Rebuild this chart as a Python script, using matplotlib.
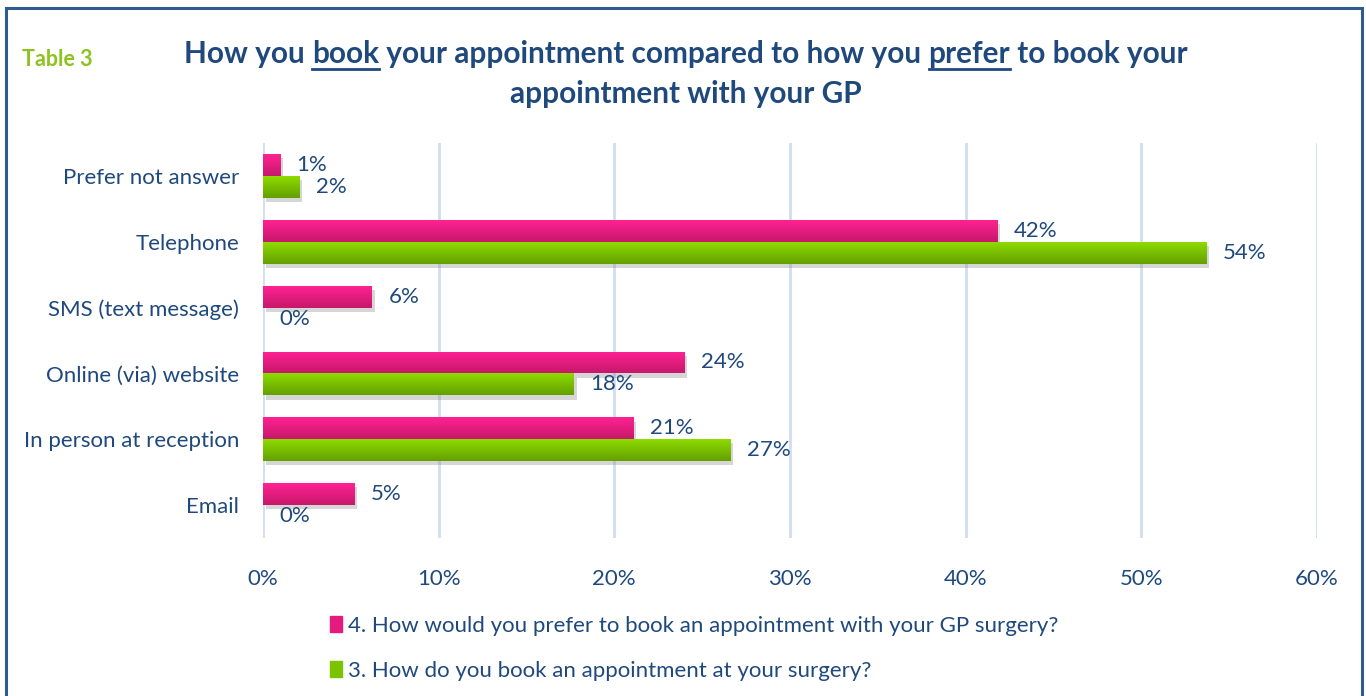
"""
Table 3 - how patients book their GP appointment vs. how they prefer to.
Horizontal grouped bar chart, saved as out.png.
"""

import numpy as np
import matplotlib
matplotlib.use("Agg")
import matplotlib.pyplot as plt
from matplotlib.colors import LinearSegmentedColormap
from matplotlib.patches import Rectangle
import matplotlib.patheffects as pe

plt.rcParams['font.family'] = ['Lato', 'DejaVu Sans']

# ----------------------------------------------------------------
# Data, top row first
# ----------------------------------------------------------------
categories = ["Prefer not answer", "Telephone", "SMS (text message)",
              "Online (via) website", "In person at reception", "Email"]
prefer_values = [0.97, 41.8, 6.2, 24.0, 21.1, 5.2]    # question 4
book_values = [2.05, 53.7, 0.0, 17.7, 26.6, 0.0]      # question 3
prefer_label = "4. How would you prefer to book an appointment with your GP surgery?"
book_label = "3. How do you book an appointment at your surgery?"
x_ticks = [0, 10, 20, 30, 40, 50, 60]

TEXT_BLUE = "#1F497D"
GRID_BLUE = "#D0DEF0"
PINK_TOP, PINK_BOTTOM = "#FF2293", "#C7186B"
GREEN_TOP, GREEN_BOTTOM = "#8EDB00", "#64A000"
FS = 16

fig = plt.figure(figsize=(13.66, 6.96), dpi=100)
ax = fig.add_axes([0.1925, 0.227, 0.7716, 0.5675])

# categories drawn from the top, so reverse the positions
y = np.arange(len(categories))[::-1]
bar_h = 0.333

shadow = [pe.SimplePatchShadow(offset=(2, -3), shadow_rgbFace="#808080", alpha=0.32),
          pe.Normal()]
pink_bars = ax.barh(y + bar_h / 2, prefer_values, height=bar_h,
                    color=PINK_BOTTOM, zorder=3)
green_bars = ax.barh(y - bar_h / 2, book_values, height=bar_h,
                     color=GREEN_BOTTOM, zorder=3)


def add_gradient(bars, top, bottom):
    """Paint a vertical gradient inside every bar and give it a shadow."""
    cmap = LinearSegmentedColormap.from_list("g", [bottom, top])
    grad = np.linspace(0, 1, 64).reshape(-1, 1)
    for bar in bars:
        if bar.get_width() <= 0:
            continue
        bar.set_path_effects(shadow)
        x0, y0 = bar.get_x(), bar.get_y()
        w, h = bar.get_width(), bar.get_height()
        img = ax.imshow(grad, extent=[x0, x0 + w, y0, y0 + h], origin="lower",
                        cmap=cmap, aspect="auto", zorder=4, interpolation="bilinear")
        img.set_clip_path(bar)


add_gradient(pink_bars, PINK_TOP, PINK_BOTTOM)
add_gradient(green_bars, GREEN_TOP, GREEN_BOTTOM)

ax.bar_label(pink_bars, labels=[f"{v:.0f}%" for v in prefer_values], padding=12,
             color=TEXT_BLUE, fontsize=FS)
ax.bar_label(green_bars, labels=[f"{v:.0f}%" for v in book_values], padding=12,
             color=TEXT_BLUE, fontsize=FS)

ax.set_xlim(0, 60)
ax.set_ylim(-0.5, len(categories) - 0.5)
ax.set_xticks(x_ticks)
ax.set_xticklabels([f"{t}%" for t in x_ticks])
ax.set_yticks(y)
ax.set_yticklabels(categories)
ax.tick_params(axis="both", length=0, labelsize=FS, labelcolor=TEXT_BLUE)
ax.tick_params(axis="x", pad=22)
ax.tick_params(axis="y", pad=17)
ax.grid(axis="x", color=GRID_BLUE, linewidth=2, zorder=0)
ax.set_axisbelow(True)
for s in ax.spines.values():
    s.set_visible(False)

# legend, one entry per line below the chart
handles = [Rectangle((0, 0), 1, 1, color="#E41A7F"),
           Rectangle((0, 0), 1, 1, color="#7BC200")]
leg = fig.legend(handles, [prefer_label, book_label], loc="upper left",
                 bbox_to_anchor=(0.2415, 0.115), frameon=False, fontsize=FS,
                 handlelength=0.55, handleheight=0.7, handletextpad=0.25,
                 labelspacing=1.12, borderpad=0, borderaxespad=0)
for t in leg.get_texts():
    t.set_color(TEXT_BLUE)

# outer frame
fig.patches.append(Rectangle((0.0045, -0.1), 0.9925, 1.088, transform=fig.transFigure,
                             fill=False, edgecolor="#2F5B8E", linewidth=2.2))

# "Table 3" tag
fig.text(0.016, 0.914, "Table 3", color="#8DC21F", fontsize=15.5,
         fontweight="bold", ha="left", va="center")

# title with underlined words
title_1 = ["How you ", "book", " your appointment compared to how you ",
           "prefer", " to book your"]
underline = [False, True, False, True, False]
title_2 = "appointment with your GP"
title_kw = dict(color=TEXT_BLUE, fontsize=21.4, fontweight="bold")

fig.canvas.draw()
renderer = fig.canvas.get_renderer()


def text_width(s):
    t = fig.text(0, 0, s, **title_kw)
    bb = t.get_window_extent(renderer)
    t.remove()
    return bb.width


full_w = text_width("".join(title_1))
x_px = 686 - full_w / 2
base_y = 0.91
for part, ul in zip(title_1, underline):
    w = text_width(part)
    fig.text(x_px / 1366, base_y, part, ha="left", va="baseline", **title_kw)
    if ul:
        fig.lines.append(plt.Line2D([x_px / 1366, (x_px + w) / 1366],
                                    [base_y - 0.009, base_y - 0.009],
                                    transform=fig.transFigure, color=TEXT_BLUE,
                                    linewidth=2))
    x_px += w
fig.text(686 / 1366, base_y - 0.058, title_2, ha="center", va="baseline", **title_kw)

fig.savefig("out.png", dpi=100)
